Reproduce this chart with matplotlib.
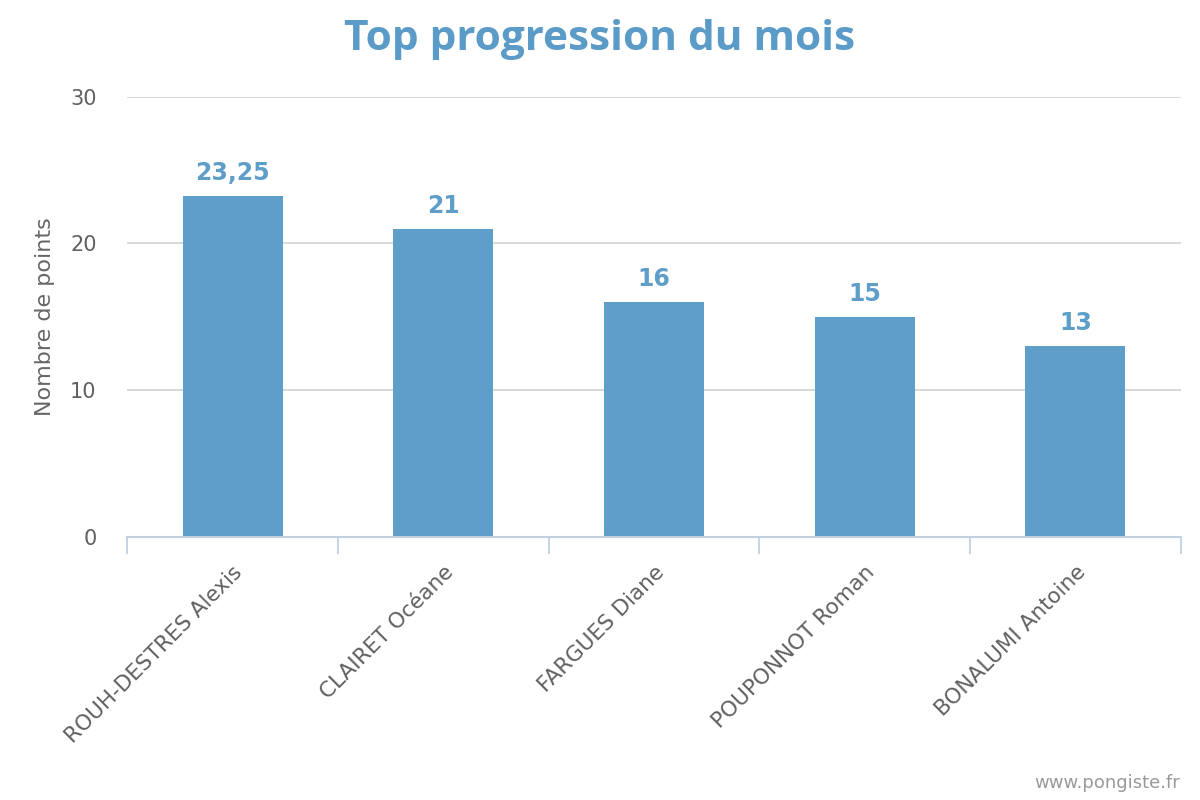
import matplotlib.pyplot as plt
import numpy as np

# Data
joueurs = ['ROUH-DESTRES Alexis', 'CLAIRET Océane', 'FARGUES Diane',
           'POUPONNOT Roman', 'BONALUMI Antoine']
points = [23.25, 21, 16, 15, 13]
labels = ['23,25', '21', '16', '15', '13']
yticks = [0, 10, 20, 30]

bar_color = '#5f9ec8'
txt_gray = '#606060'

fig = plt.figure(figsize=(12, 8), dpi=100)
ax = fig.add_axes([0.106, 0.329, 0.878, 0.550])

x = np.arange(len(joueurs))
ax.bar(x, points, width=0.475, color=bar_color, zorder=2)

for xi, v, lab in zip(x, points, labels):
    ax.annotate(lab, (xi, v), xytext=(0, 8), textcoords='offset points',
                ha='center', va='bottom', fontsize=17, fontweight='bold',
                color=bar_color)

ax.set_xlim(-0.5, len(joueurs) - 0.5)
ax.set_ylim(0, 30)
ax.set_yticks(yticks)
ax.set_yticklabels([str(t) for t in yticks], fontsize=15, color=txt_gray)
ax.yaxis.grid(True, color='#d6d6d6', linewidth=1.3, zorder=0)
ax.tick_params(axis='y', length=0, pad=22)

# category boundaries for tick marks
ax.set_xticks(np.arange(len(joueurs) + 1) - 0.5)
ax.set_xticklabels([])
ax.set_xticks(x, minor=True)
ax.set_xticklabels(joueurs, minor=True, rotation=45, ha='right',
                   rotation_mode='anchor', fontsize=15.5, color=txt_gray)
ax.tick_params(axis='x', which='major', length=12, width=1.3, color='#c0d0e0')
ax.tick_params(axis='x', which='minor', length=0, pad=18)

for s in ['top', 'right', 'left']:
    ax.spines[s].set_visible(False)
ax.spines['bottom'].set_color('#c0d0e0')
ax.spines['bottom'].set_linewidth(1.5)
ax.spines['bottom'].set_zorder(3)

ax.set_ylabel('Nombre de points', fontsize=16, color='#666666', labelpad=11)

fig.text(0.5, 0.951, 'Top progression du mois', ha='center', va='center',
         fontsize=30.5, fontweight='bold', color='#5b9bc8', family='Open Sans')
fig.text(0.983, 0.021, 'www.pongiste.fr', ha='right', va='center',
         fontsize=13, color='#999999')

fig.savefig('out.png', dpi=100)
